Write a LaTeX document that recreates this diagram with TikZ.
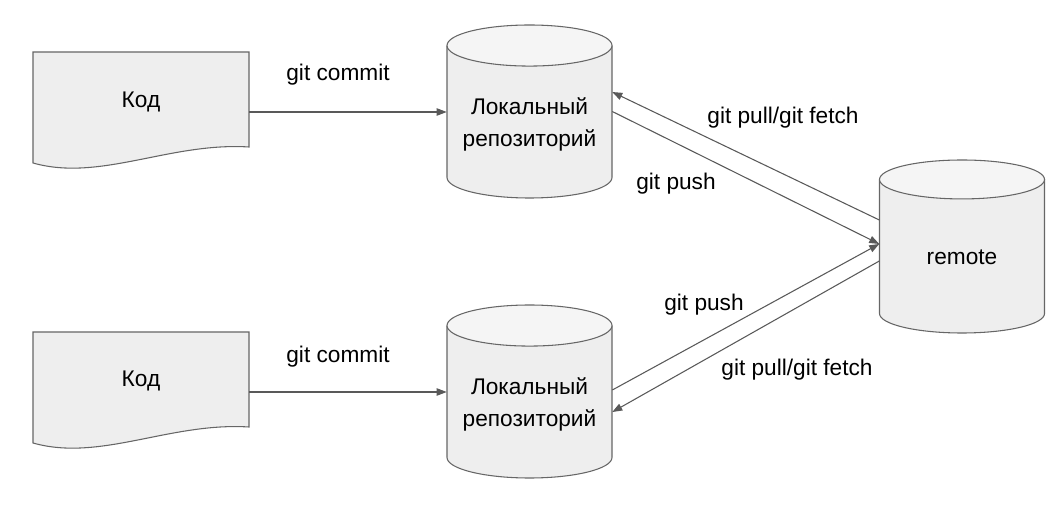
\documentclass[tikz,border=0pt]{standalone}
\usepackage{fontspec}
\setmainfont{Liberation Sans}
\usetikzlibrary{arrows.meta,calc}
\definecolor{shapefill}{HTML}{EEEEEE}
\definecolor{topfill}{HTML}{F5F5F5}
\definecolor{edge}{HTML}{666666}
\definecolor{arrowc}{HTML}{595959}
\newcommand\mycyl[5]{% cx, top, bottom, rx(pt), ry(pt) ; coordinates in px
  \fill[shapefill] (#1,#2) ++(-#4,-#5) -- ($(#1,#3)+(-#4,#5)$) arc (180:360:#4 and #5) -- ($(#1,#2)+(#4,-#5)$) -- cycle;
  \draw[edge,line width=0.8pt] ($(#1,#2)+(-#4,-#5)$) -- ($(#1,#3)+(-#4,#5)$) arc (180:360:#4 and #5) -- ($(#1,#2)+(#4,-#5)$);
  \draw[edge,line width=0.8pt,fill=topfill] ($(#1,#2)+(0,-#5)$) ellipse (#4 and #5);
}
\newcommand\mydoc[1]{% vertical offset in px
  \draw[edge,line width=0.8pt,fill=shapefill] (33,465-#1) -- (33,354-#1) .. controls (100,335-#1) and (170,375-#1) .. (249,370-#1) -- (249,465-#1) -- cycle;
}
\tikzset{
  txt/.style={font=\fontsize{17}{24}\selectfont, align=center, inner sep=0pt, text=black},
  box/.style={draw=none, inner sep=0pt, minimum width=#1},
  conn/.style={draw=arrowc, line width=0.8pt, -{Triangle[length=7.5pt,width=5.5pt]}},
}
\begin{document}
\begin{tikzpicture}[x=0.75pt,y=0.75pt]
\useasboundingbox (0,0) rectangle (1062,517);
% shapes
\mydoc{0}
\mydoc{280}
\mycyl{529.5}{492}{319}{61.875pt}{15.4pt}
\mycyl{529.5}{212}{39}{61.875pt}{15.4pt}
\mycyl{962}{357}{184}{61.875pt}{14.6pt}
% invisible named bounds
\node[box=162pt, minimum height=88.5pt] (doc1) at (141,406) {};
\node[box=162pt, minimum height=88.5pt] (doc2) at (141,126) {};
\node[box=123.75pt, minimum height=129.75pt] (cyl1) at (529.5,405.5) {};
\node[box=123.75pt, minimum height=129.75pt] (cyl2) at (529.5,125.5) {};
\node[box=123.75pt, minimum height=129.75pt] (remote) at (962,270.5) {};
% texts
\node[txt] (doc1t) at (141,415) {Код};
\node[txt] (doc2t) at (141,136) {Код};
\node[txt] (cyl1t) at (529.5,393) {Локальный\\репозиторий};
\node[txt] (cyl2t) at (529.5,113) {Локальный\\репозиторий};
\node[txt] (remotet) at (962,260) {remote};
% connectors
\draw[conn] ([yshift=-0.75pt]doc1.east) -- ([yshift=-0.75pt]doc1.east -| cyl1.west);
\draw[conn] ([yshift=-0.75pt]doc2.east) -- ([yshift=-0.75pt]doc2.east -| cyl2.west);
\draw[conn] ([yshift=19.9pt]remote.west) -- ([yshift=14.6pt]cyl1.east);
\draw[conn] (cyl1.east) -- ([yshift=1.9pt]remote.west);
\draw[conn] ([yshift=1.1pt]cyl2.east) -- ([yshift=1.9pt]remote.west);
\draw[conn] ([yshift=-10.9pt]remote.west) -- ([yshift=-15.4pt]cyl2.east);
% labels
\node[txt] (l1) at (338,442) {git commit};
\node[txt] (l2) at (338,160) {git commit};
\node[txt] (l3) at (783,399) {git pull/git fetch};
\node[txt] (l4) at (676,333) {git push};
\node[txt] (l5) at (704,212) {git push};
\node[txt] (l6) at (797,147) {git pull/git fetch};
\end{tikzpicture}
\end{document}
